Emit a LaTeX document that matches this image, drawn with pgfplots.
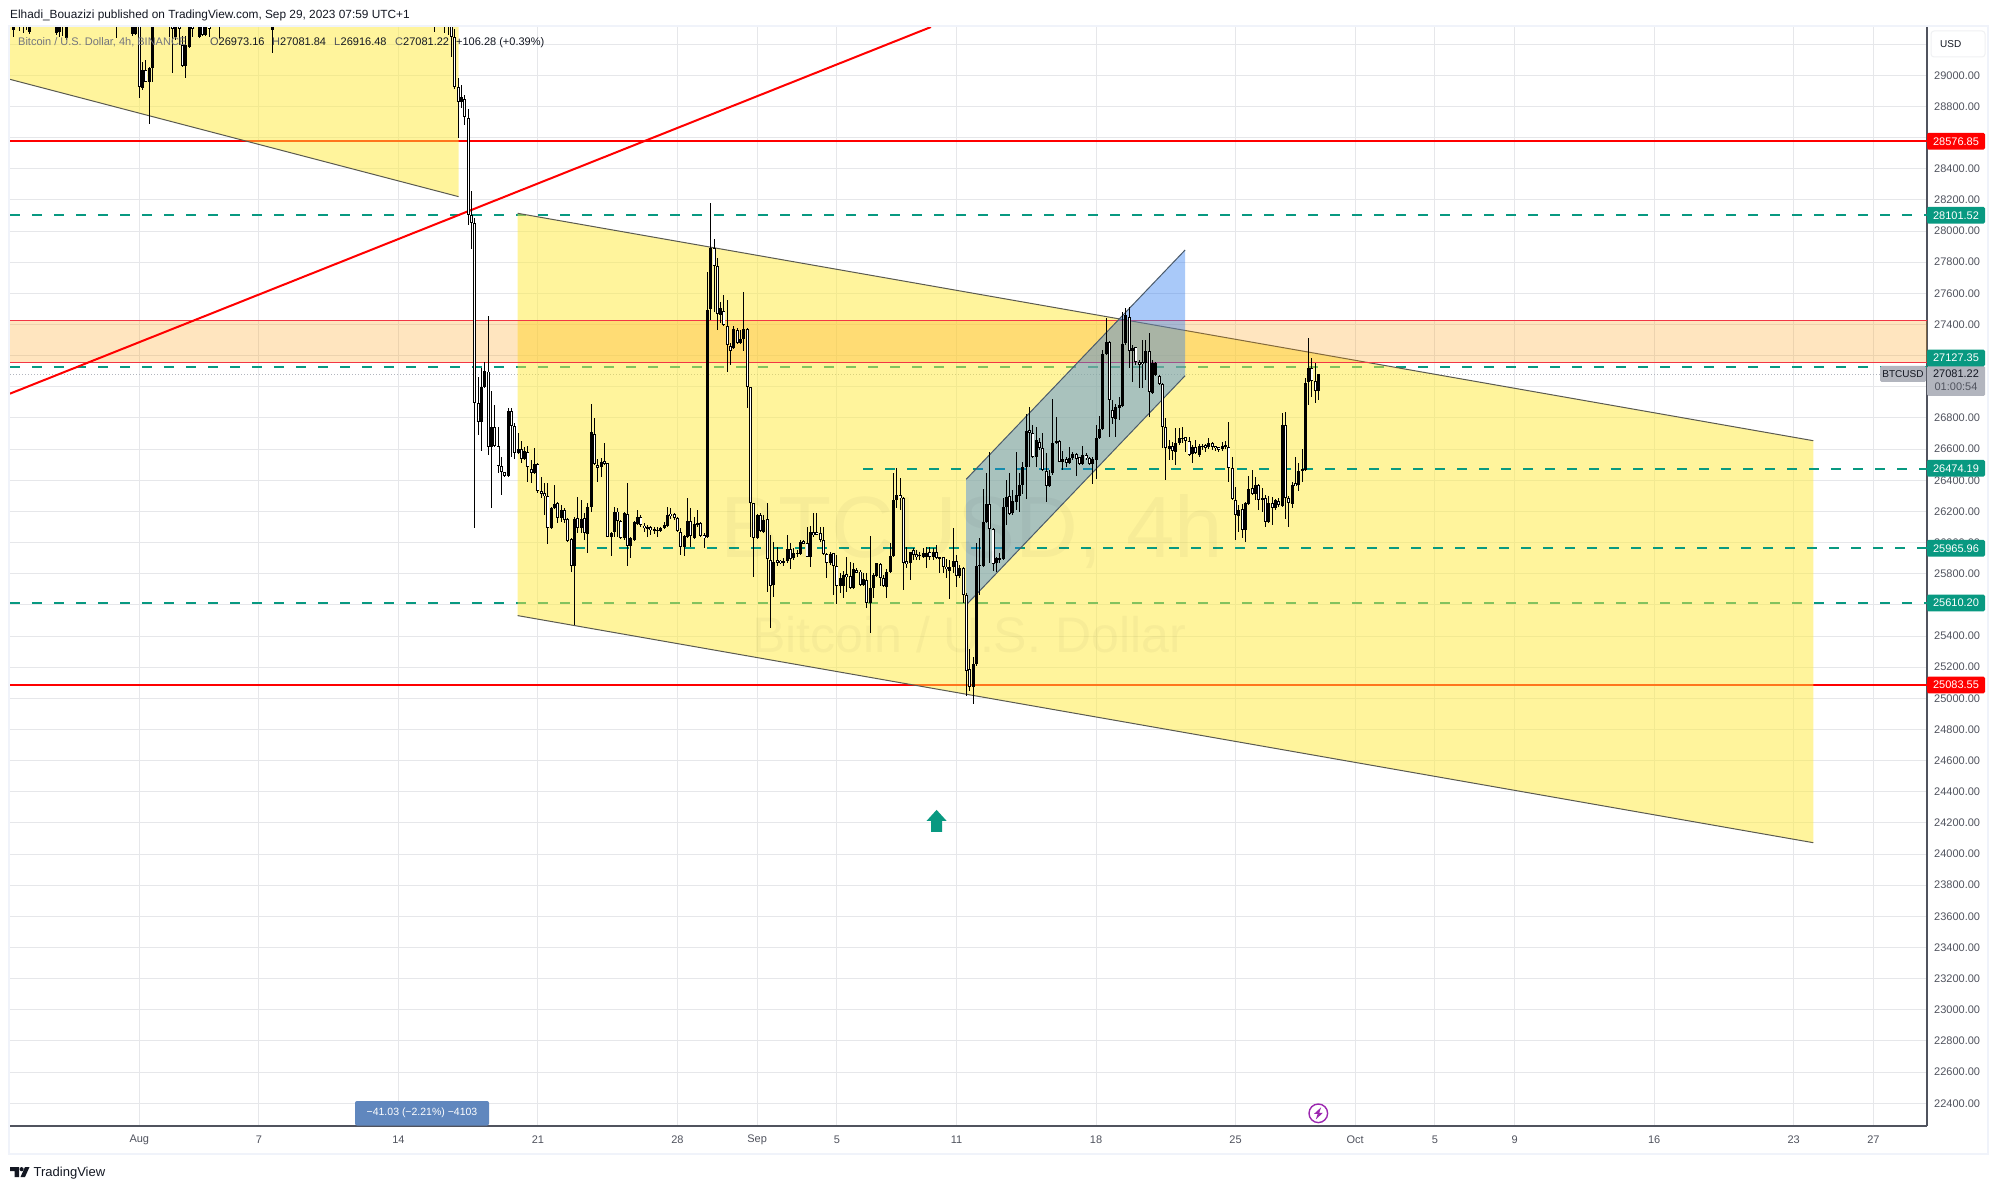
\documentclass[border=0pt]{standalone}
\usepackage{fontspec}
\setmainfont{Liberation Sans}
\usepackage{pgfplots}
\usepackage{pgfplotstable}
\pgfplotsset{compat=1.18}
\definecolor{tvteal}{HTML}{089981}
\definecolor{tvred}{HTML}{FF0000}
\definecolor{bandred}{HTML}{F23645}
\definecolor{tvgray}{HTML}{B2B5BE}
\definecolor{gridc}{HTML}{E6E7EA}
\definecolor{framec}{HTML}{F0F3FA}
\definecolor{labc}{HTML}{50535E}
\definecolor{txtc}{HTML}{131722}
\definecolor{axisc}{HTML}{50535E}
\definecolor{edgec}{HTML}{5A5A50}
\definecolor{edgeb}{HTML}{4A5A6A}
\definecolor{yellowc}{RGB}{255,235,59}
\definecolor{orangec}{RGB}{255,152,0}
\definecolor{bluec}{RGB}{41,120,240}
\definecolor{measurec}{RGB}{96,135,190}
\definecolor{boltc}{RGB}{156,39,176}
\pgfdeclareplotmark{uparrow}{%
  \pgfpathmoveto{\pgfqpoint{0pt}{11pt}}%
  \pgfpathlineto{\pgfqpoint{10pt}{0pt}}%
  \pgfpathlineto{\pgfqpoint{5.5pt}{0pt}}%
  \pgfpathlineto{\pgfqpoint{5.5pt}{-11pt}}%
  \pgfpathlineto{\pgfqpoint{-5.5pt}{-11pt}}%
  \pgfpathlineto{\pgfqpoint{-5.5pt}{0pt}}%
  \pgfpathlineto{\pgfqpoint{-10pt}{0pt}}%
  \pgfpathclose\pgfusepathqfill}
% n = 4h bars since 1 Aug 00:00; columns open high low close
\pgfplotstableread{
n o h l c
-39 29291 29500 29248 29400
-36 29330 29450 29270 29400
-34 29276 29450 29263 29400
-26 29270 29500 29259 29400
-25 29276 29500 29248 29400
-23 29237 29500 29227 29400
-3 29263 29500 29255 29400
-2 29263 29500 29259 29400
0 28921 29088 28906 29034
2 28959 29055 28690 29045
3 29049 29500 28955 29400
10 29244 29500 29227 29400
13 29062 29250 28985 29195
14 29184 29500 29173 29400
17 29248 29500 29240 29400
19 29259 29500 29250 29400
39 29291 29500 29141 29400
96 28826 28938 28788 28863
102 26772 27119 26590 26997
103 27001 27162 26997 27104
105 26616 26976 26220 26740
110 26428 26862 26423 26847
113 26573 26702 26569 26599
115 26535 26616 26530 26588
118 26449 26605 26445 26503
123 26092 26231 26087 26220
124 26220 26370 26214 26248
126 26156 26242 26135 26209
130 25852 26162 25471 26149
132 26096 26274 26060 26149
134 26053 26256 25931 26231
135 26231 26890 26199 26708
138 26483 26541 26423 26520
141 26034 26070 25916 26060
142 26070 26227 26038 26194
145 26028 26199 26017 26188
147 25980 26038 25899 26028
148 26017 26141 26013 26130
149 26120 26209 26113 26162
152 26092 26113 26034 26098
154 26077 26098 26055 26085
155 26077 26098 26034 26081
156 26077 26102 26075 26092
157 26092 26135 26085 26113
158 26109 26227 26102 26177
163 25974 26049 25916 26042
164 26034 26284 26028 26139
166 26028 26167 26021 26117
167 26117 26209 26102 26124
170 26034 27739 26028 27493
171 27498 28178 27429 27894
174 27461 27547 27408 27504
178 27247 27391 27241 27369
180 27279 27365 27275 27305
181 27305 27607 27232 27369
185 26028 26182 26021 26177
187 26070 26177 26064 26145
190 25728 26006 25653 25878
193 25873 25899 25850 25878
194 25882 26049 25871 25957
196 25899 25963 25888 25935
197 25927 25953 25910 25935
198 25927 26017 25920 26006
201 25910 26107 25841 26066
207 25867 25942 25856 25927
210 25721 25803 25674 25771
211 25721 25820 25642 25792
214 25706 25867 25700 25828
217 25726 25803 25721 25764
219 25610 26042 25418 25706
220 25706 25803 25642 25792
221 25786 25871 25781 25867
224 25717 25828 25642 25814
225 25814 25995 25807 25914
226 25914 26449 25910 26274
227 26274 26477 26220 26306
231 25871 25942 25760 25938
234 25914 25942 25888 25920
235 25906 25963 25899 25935
236 25906 25974 25835 25935
238 25906 25963 25888 25942
240 25899 25910 25803 25906
243 25820 25888 25638 25841
244 25841 26092 25803 25882
246 25786 25856 25771 25835
250 25075 25264 24964 25221
251 25219 25995 25208 25852
252 25850 26028 25664 25856
253 25852 26342 25850 26130
254 26135 26445 26130 26246
257 25871 25906 25814 25899
258 25893 25931 25867 25899
259 25893 26284 25888 26231
260 26231 26402 26113 26291
262 26188 26338 26177 26267
263 26263 26584 26209 26304
264 26299 26445 26199 26370
265 26370 26520 26312 26483
266 26483 26826 26280 26719
269 26552 26744 26488 26659
273 26363 26466 26359 26430
274 26445 26920 26434 26637
275 26637 26809 26633 26650
277 26520 26590 26466 26535
279 26513 26616 26509 26541
280 26541 26584 26530 26569
283 26503 26620 26498 26562
286 26505 26552 26376 26535
287 26530 26755 26406 26669
288 26669 26813 26665 26727
289 26727 27237 26723 27211
290 27211 27440 27204 27290
293 26794 26890 26680 26873
294 26862 26937 26787 26881
295 26877 27483 26873 27273
296 27279 27504 27269 27461
298 27230 27269 27033 27247
302 27151 27301 27044 27230
304 26958 27172 26954 27151
305 27076 27162 27072 27151
309 26601 26659 26530 26620
311 26584 26734 26498 26642
312 26642 26734 26627 26669
313 26663 26740 26637 26674
316 26569 26627 26513 26616
318 26562 26633 26552 26620
319 26616 26633 26595 26622
321 26616 26669 26599 26642
325 26599 26648 26590 26620
326 26616 26654 26599 26625
330 26173 26241 26070 26209
332 26081 26263 26006 26252
333 26248 26428 26241 26342
335 26310 26423 26274 26370
337 26274 26348 26199 26284
339 26130 26299 26124 26252
341 26220 26278 26209 26274
343 26235 26830 26231 26753
346 26248 26391 26224 26370
348 26370 26513 26333 26460
349 26460 26599 26391 26470
350 26466 27055 26462 27023
351 27033 27312 26884 27119
354 26973.16 27081.84 26916.48 27081.22
}\upbars
\pgfplotstableread{
n o h l c
-37 29450 29500 29284 29320
-35 29450 29500 29291 29330
-24 29450 29500 29255 29320
-8 29450 29500 29237 29330
-1 29400 29450 28852 28927
1 29034 29098 28955 28959
8 29450 29500 29248 29320
9 29400 29500 29013 29300
11 29400 29500 29195 29300
12 29195 29250 29055 29062
15 29400 29500 29248 29300
18 29400 29500 29250 29259
20 29400 29500 29248 29300
23 29400 29500 29237 29320
88 29450 29500 29280 29320
91 29450 29500 29270 29320
92 29450 29500 29259 29320
93 29400 29500 29120 29248
94 29248 29300 28915 28923
95 28923 28981 28600 28831
97 28848 28874 28681 28730
98 28724 28784 28039 28103
99 28103 28257 27885 28050
100 28050 28082 26092 26894
101 26894 27065 26691 26772
104 27098 27455 26562 26616
106 26740 26883 26616 26622
107 26622 26740 26449 26492
108 26492 26548 26306 26451
109 26451 26456 26423 26428
111 26843 26862 26552 26749
112 26749 26770 26535 26573
114 26599 26655 26509 26535
116 26584 26620 26391 26483
117 26470 26530 26381 26449
119 26503 26509 26316 26334
120 26327 26419 26284 26316
121 26316 26385 26177 26301
122 26301 26385 25989 26092
125 26252 26263 26124 26156
127 26209 26220 26128 26145
128 26149 26156 26006 26013
129 26021 26028 25813 25852
131 26156 26295 26060 26096
133 26156 26188 26017 26060
136 26695 26798 26498 26505
137 26494 26535 26391 26483
139 26520 26637 26498 26509
140 26509 26513 26034 26038
143 26199 26220 26038 26139
144 26141 26145 26021 26028
146 26182 26381 25852 25980
150 26162 26177 26102 26113
151 26109 26124 26070 26092
153 26098 26109 26049 26081
159 26182 26220 26149 26173
160 26182 26188 26145 26156
161 26156 26167 26070 26077
162 26070 26092 25920 25974
165 26139 26220 25974 26042
168 26124 26135 26034 26042
169 26042 26060 25963 26034
172 27889 27947 27483 27778
173 27776 27825 27365 27468
175 27487 27590 27393 27397
176 27391 27558 27098 27269
177 27264 27279 27140 27232
179 27365 27376 27275 27279
182 27369 27376 26866 26997
183 26997 27001 26038 26252
184 26252 26256 25777 26028
186 26177 26188 26070 26077
188 26149 26256 25685 25893
189 25888 26049 25450 25722
191 25884 25974 25852 25873
192 25878 25888 25863 25873
195 25957 25995 25828 25895
199 26006 26017 25991 25995
200 25995 26102 25906 25910
202 26066 26188 26038 26049
203 26066 26188 26049 26055
204 26064 26102 26006 26017
205 26017 26102 25920 25927
206 25927 25935 25771 25867
208 25931 25935 25664 25850
209 25850 25920 25606 25722
212 25788 25910 25685 25786
213 25788 25878 25700 25706
215 25824 25835 25803 25807
216 25814 25824 25721 25726
218 25760 25803 25578 25610
222 25863 25867 25721 25771
223 25771 25792 25717 25721
228 26306 26413 26209 26284
229 26284 26295 25696 25871
230 25873 25974 25835 25871
232 25953 25963 25888 25920
233 25920 25953 25888 25910
237 25942 25974 25888 25910
239 25942 25985 25893 25899
241 25906 25910 25803 25846
242 25846 25893 25771 25828
245 25882 25920 25717 25788
247 25835 25846 25610 25664
248 25664 25674 25017 25178
249 25186 25315 25050 25075
255 26246 26582 25867 26085
256 26085 26092 25820 25863
261 26299 26445 26177 26182
267 26723 26873 26483 26706
268 26706 26755 26541 26548
270 26648 26669 26595 26605
271 26605 26706 26462 26466
272 26462 26573 26263 26363
276 26650 26659 26515 26520
278 26535 26552 26488 26513
281 26569 26573 26430 26535
282 26548 26552 26498 26503
284 26562 26573 26530 26541
285 26541 26552 26498 26505
291 27290 27294 26680 26916
292 26851 26916 26759 26798
297 27451 27511 27119 27230
299 27254 27258 27140 27162
300 27157 27172 26995 27145
301 27155 27301 26991 27151
303 27232 27344 26804 26965
306 27072 27076 27012 27018
307 27018 27023 26605 26744
308 26740 26798 26402 26605
310 26620 26648 26530 26590
314 26676 26680 26584 26654
315 26654 26676 26558 26562
317 26616 26659 26569 26573
320 26620 26633 26584 26616
322 26642 26648 26595 26616
323 26616 26620 26590 26610
324 26610 26616 26584 26599
327 26616 26772 26387 26481
328 26481 26552 26274 26278
329 26274 26355 26017 26177
331 26214 26248 26028 26081
334 26348 26466 26306 26310
336 26370 26376 26209 26274
338 26284 26306 26098 26130
340 26252 26295 26113 26220
342 26269 26284 26231 26241
344 26753 26836 26152 26284
345 26284 26299 26102 26256
347 26376 26552 26364 26366
352 27119 27183 26937 27040
353 27040 27155 26898 26976
}\downbars
\newcommand{\hl}[3][]{\addplot[#1] coordinates {(#2,#3) (538.14,#3)};}
\begin{document}
\begin{tikzpicture}[x=1pt,y=1pt]
\fill[white] (0,0) rectangle (1999,1189);
\useasboundingbox (0,0) rectangle (1999,1189);
% outer frame
\draw[framec,line width=2pt] (9,1189-26) rectangle (1988,1189-1154);
\begin{axis}[
  at={(10pt,63pt)},anchor=south west,
  width=1917pt,height=1099pt,scale only axis,
  xmin=-38.92,xmax=538.14,ymin=22254,ymax=29310.1,
  axis x line*=bottom,axis y line*=right,
  axis line style={draw=axisc,line width=1.2pt,-},
  xtick={0,36,78,120,162,186,210,246,288,330,366,390,414,456,498,522},
  xticklabels={Aug,7,14,21,28,Sep,5,11,18,25,Oct,5,9,16,23,27},
  ytick={22400,22600,...,29200},
  scaled y ticks=false,
  major tick length=0pt,
  grid=major,major grid style={draw=gridc,line width=1pt},
  x tick label style={font=\fontsize{11}{13}\selectfont,text=labc,anchor=center,yshift=-14pt,inner sep=0pt},
  y tick label style={font=\fontsize{11}{13}\selectfont,text=labc,anchor=west,xshift=7pt,inner sep=0pt,
    /pgf/number format/fixed,/pgf/number format/fixed zerofill,/pgf/number format/precision=2,
    /pgf/number format/1000 sep={},/pgf/number format/assume math mode=true},
  clip=true,
]
% lines that lie under the yellow channels
\hl[tvred,line width=2pt]{-38.92}{28576.85}
\hl[tvred,line width=2pt]{-38.92}{25083.55}
\hl[tvteal,line width=1.8pt,dash pattern=on 10pt off 12pt]{-38.92}{28101.52}
\hl[tvteal,line width=1.8pt,dash pattern=on 10pt off 12pt]{-38.92}{27127.35}
\hl[tvteal,line width=1.8pt,dash pattern=on 10pt off 12pt]{-38.92}{25610.20}
\addplot[tvgray,line width=1pt,dash pattern=on 1pt off 2pt] coordinates {(-38.92,27081.22) (524,27081.22)};
% yellow channels
\addplot[draw=none,fill=yellowc,fill opacity=0.5] coordinates {(-38.92,28974) (96.1,28221) (96.1,29310) (-38.92,29310)} -- cycle;
\addplot[edgec,line width=1pt] coordinates {(-38.92,28974) (96.1,28221)};
\addplot[draw=none,fill=yellowc,fill opacity=0.5] coordinates {(113.9,25531) (503.9,24073) (503.9,26654) (113.9,28114)} -- cycle;
\addplot[edgec,line width=1pt] coordinates {(113.9,28114) (503.9,26654)};
\addplot[edgec,line width=1pt] coordinates {(113.9,25531) (503.9,24073)};
% lines above the yellow
\hl[tvteal,line width=1.8pt,dash pattern=on 10pt off 12pt]{217.9}{26474.19}
\hl[tvteal,line width=1.8pt,dash pattern=on 10pt off 12pt]{131.2}{25965.96}
% orange zone
\addplot[draw=bandred,line width=1pt,fill=orangec,fill opacity=0.25] coordinates {(-45,27427) (545,27427) (545,27157) (-45,27157)} -- cycle;
% blue channel
\addplot[draw=none,fill=bluec,fill opacity=0.4] coordinates {(248.9,25599) (314.8,27071) (314.8,27878) (248.9,26406)} -- cycle;
\addplot[edgeb,line width=1pt] coordinates {(248.9,26406) (314.8,27878)};
\addplot[edgeb,line width=1pt] coordinates {(248.9,25599) (314.8,27071)};
% red trend line
\addplot[tvred,line width=2pt] coordinates {(-38.92,26956) (238.3,29310)};
% candles: wicks
\addplot[draw=none,no markers,error bars/.cd,y dir=both,y explicit,error mark=none,error bar style={draw=black,line width=1pt}]
  table[x expr=\thisrow{n}+1,y=o,y error plus expr=\thisrow{h}-\thisrow{o},y error minus expr=\thisrow{o}-\thisrow{l}] {\upbars};
\addplot[draw=none,no markers,error bars/.cd,y dir=both,y explicit,error mark=none,error bar style={draw=black,line width=1pt}]
  table[x expr=\thisrow{n}+1,y=o,y error plus expr=\thisrow{h}-\thisrow{o},y error minus expr=\thisrow{o}-\thisrow{l}] {\downbars};
% candles: bodies
\addplot[draw=none,no markers,error bars/.cd,y dir=both,y explicit,error mark=none,error bar style={draw=black,line width=3pt}]
  table[x expr=\thisrow{n}+1,y expr=(\thisrow{o}+\thisrow{c})/2,y error plus expr={max(abs(\thisrow{c}-\thisrow{o})/2,4)},y error minus expr={max(abs(\thisrow{c}-\thisrow{o})/2,4)}] {\upbars};
\addplot[draw=none,no markers,error bars/.cd,y dir=both,y explicit,error mark=none,error bar style={draw=black,line width=3pt}]
  table[x expr=\thisrow{n}+1,y expr=(\thisrow{o}+\thisrow{c})/2,y error plus expr={max(abs(\thisrow{c}-\thisrow{o})/2,9)},y error minus expr={max(abs(\thisrow{c}-\thisrow{o})/2,9)}] {\downbars};
\addplot[draw=none,no markers,error bars/.cd,y dir=both,y explicit,error mark=none,error bar style={draw=white,line width=1.2pt}]
  table[x expr=\thisrow{n}+1,y expr=(\thisrow{o}+\thisrow{c})/2,y error plus expr={max(abs(\thisrow{c}-\thisrow{o})/2-6,3)},y error minus expr={max(abs(\thisrow{c}-\thisrow{o})/2-6,3)}] {\downbars};
% signal arrow
\addplot[only marks,mark=uparrow,color=tvteal,mark options={fill=tvteal,draw=none}] coordinates {(240,24213)};
\end{axis}
% watermark
\node[text=black,opacity=0.03,font=\fontsize{87}{90}\selectfont] at (972,1189-532) {BTCUSD, 4h};
\node[text=black,opacity=0.03,font=\fontsize{50}{54}\selectfont] at (969,1189-635) {Bitcoin / U.S. Dollar};
% header text
\node[anchor=base west,inner sep=0pt,text=txtc,font=\fontsize{11.85}{13}\selectfont] at (10,1189-19) {Elhadi\_Bouazizi published on TradingView.com, Sep 29, 2023 07:59 UTC+1};
\begin{scope}[every node/.style={anchor=base west,inner sep=0pt,font=\fontsize{11}{13}\selectfont}]
\node[text=labc!80] at (18,1189-46) {Bitcoin / U.S. Dollar, 4h, BINANCE};
\node[text=labc] at (210,1189-46) {O};
\node[text=txtc] at (218.5,1189-46) {26973.16};
\node[text=labc] at (272,1189-46) {H};
\node[text=txtc] at (280,1189-46) {27081.84};
\node[text=labc] at (334,1189-46) {L};
\node[text=txtc] at (340.5,1189-46) {26916.48};
\node[text=labc] at (395,1189-46) {C};
\node[text=txtc] at (403,1189-46) {27081.22};
\node[text=txtc] at (456,1189-46) {+106.28 (+0.39\%)};
\end{scope}
% USD button
\draw[framec!80!gray!40,fill=white,line width=1pt,rounded corners=3pt] (1931,1189-31) rectangle (1985,1189-57);
\node[anchor=base west,inner sep=0pt,text=txtc,font=\fontsize{10}{12}\selectfont] at (1940,1189-48) {USD};
% price tags
\newcommand{\pricetag}[3]{\fill[#1,rounded corners=1.5pt] (1927,1189-#2+8.4) rectangle (1985,1189-#2-8.4);
  \node[text=white,inner sep=0pt,font=\fontsize{11}{13}\selectfont] at (1956,1189-#2) {#3};}
\fill[tvgray,rounded corners=1.5pt] (1927,1189-366) rectangle (1985,1189-396);
\node[text=txtc,inner sep=0pt,font=\fontsize{11}{13}\selectfont] at (1956,1189-374) {27081.22};
\node[text=labc,inner sep=0pt,font=\fontsize{11}{13}\selectfont] at (1956,1189-387) {01:00:54};
\fill[tvgray,rounded corners=1.5pt] (1880,1189-366) rectangle (1926,1189-382);
\node[text=txtc,inner sep=0pt,font=\fontsize{10}{12}\selectfont] at (1903,1189-374) {BTCUSD};
\pricetag{tvred}{141.3}{28576.85}
\pricetag{tvteal}{215.3}{28101.52}
\pricetag{tvteal}{358}{27127.35}
\pricetag{tvteal}{468.3}{26474.19}
\pricetag{tvteal}{548.3}{25965.96}
\pricetag{tvteal}{603}{25610.20}
\pricetag{tvred}{685}{25083.55}
% bottom measure label
\fill[measurec,rounded corners=2pt] (355,1189-1101) rectangle (489,1189-1125.5);
\node[text=white,inner sep=0pt,font=\fontsize{10.5}{12}\selectfont] at (422,1189-1113) {−41.03 (−2.21\%) −4103};
% lightning icon
\draw[boltc,line width=1.4pt] (1318.3,1189-1113.3) circle (9.3);
\fill[boltc] (1318.3,1189-1113.3) ++(2.8,6) -- ++(-7,-6.5) -- ++(3.6,0) -- ++(-1.9,-5.6) -- ++(7,6.5) -- ++(-3.6,0) -- cycle;
% TradingView logo
\fill[txtc] (10,1189-1167) -- (19,1189-1167) -- (19,1189-1177) -- (14.5,1189-1177) -- (14.5,1189-1171.2) -- (10,1189-1171.2) -- cycle;
\fill[txtc] (21.6,1189-1169.2) circle (2.1);
\fill[txtc] (25,1189-1167) -- (29.5,1189-1167) -- (25,1189-1177) -- (20.5,1189-1177) -- cycle;
\node[anchor=base west,inner sep=0pt,text=txtc,font=\fontsize{13}{15}\selectfont] at (33.5,1189-1176.5) {TradingView};
\end{tikzpicture}
\end{document}
